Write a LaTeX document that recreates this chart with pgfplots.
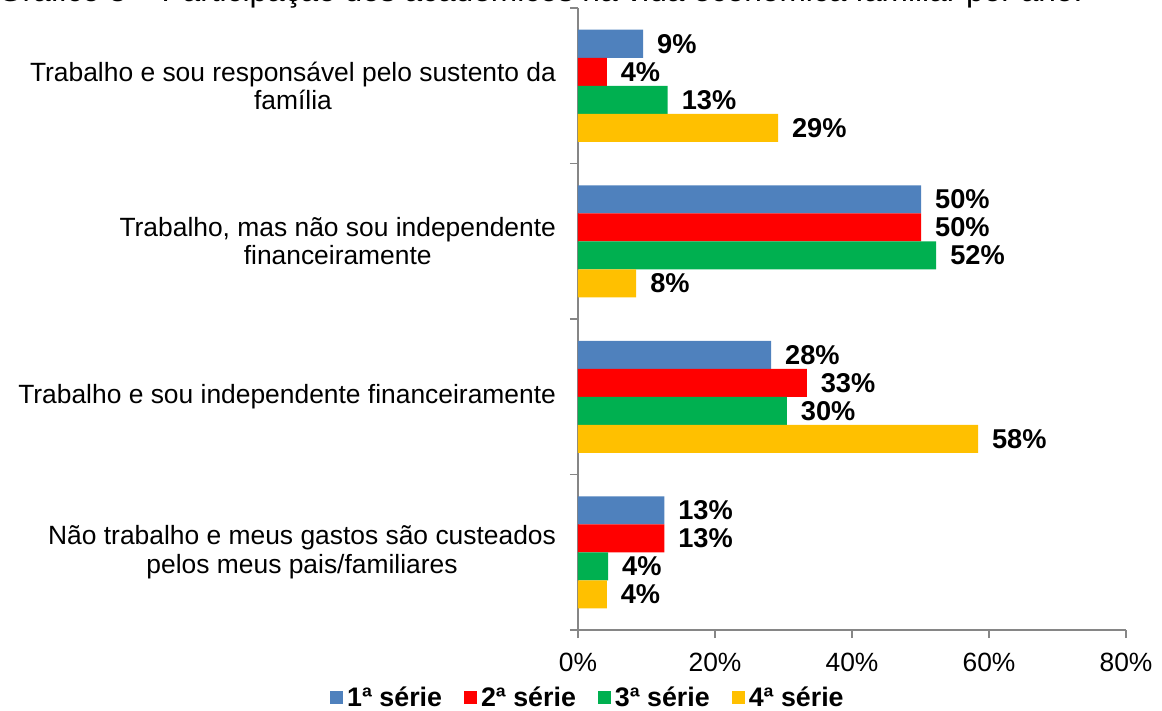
\documentclass[border=0pt]{standalone}
\usepackage{fontspec}
\setmainfont{Liberation Sans}
\usepackage{pgfplots}
\usepackage{pgfplotstable}
\pgfplotsset{compat=1.18}

\definecolor{serA}{HTML}{4F81BD}
\definecolor{serB}{HTML}{FF0000}
\definecolor{serC}{HTML}{00B050}
\definecolor{serD}{HTML}{FFC000}
\definecolor{axgray}{HTML}{868686}

% y: category (0 = top), x: percent, lab: printed label
\pgfplotstableread{
y x lab
0 9.5 9
1 50.1 50
2 28.2 28
3 12.6 13
}\serAtab
\pgfplotstableread{
y x lab
0 4.2 4
1 50.1 50
2 33.4 33
3 12.6 13
}\serBtab
\pgfplotstableread{
y x lab
0 13.1 13
1 52.3 52
2 30.5 30
3 4.4 4
}\serCtab
\pgfplotstableread{
y x lab
0 29.2 29
1 8.5 8
2 58.4 58
3 4.2 4
}\serDtab

\begin{document}
\begin{tikzpicture}[font=\fontsize{13.2}{14.2}\selectfont]
\useasboundingbox (-289pt,-40.5pt) rectangle (292pt,315pt);
\clip (-289pt,-40.5pt) rectangle (292pt,315pt);
\node[anchor=base east,inner sep=0pt,font=\fontsize{15.84}{17}\selectfont] at (252.5pt,314.4pt)
  {Gráfico 3 – Participação dos acadêmicos na vida econômica familiar por ano.};
\begin{axis}[
  scale only axis,
  width=274pt,height=311pt,
  xbar,
  bar width=14pt,
  xmin=0,xmax=80,
  ymin=-0.5,ymax=3.5,
  y dir=reverse,
  axis x line*=bottom,axis y line*=left,
  axis line style={axgray,line width=0.75pt},
  tick style={axgray,line width=0.75pt},
  tick align=outside,
  xtick={0,20,40,60,80},
  xticklabel={\pgfmathprintnumber{\tick}\%},
  /pgf/number format/assume math mode=true,
  xticklabel style={yshift=-4pt},
  major tick length=4pt,
  ytick={0,1,2,3},
  major y tick style={draw=none},
  minor ytick={-0.5,0.5,1.5,2.5,3.5},
  minor tick length=4pt,
  yticklabels={
    {Trabalho e sou responsável pelo sustento da\\família},
    {Trabalho, mas não sou independente\\financeiramente},
    {Trabalho e sou independente financeiramente},
    {Não trabalho e meus gastos são custeados\\pelos meus pais/familiares}},
  yticklabel style={align=center,xshift=-3.5pt},
  nodes near coords={\pgfplotspointmeta\%},
  point meta=explicit symbolic,
  nodes near coords style={font=\fontsize{13.6}{14.2}\selectfont\bfseries,anchor=west,xshift=3.5pt,black},
  legend style={at={(0.020,-0.109)},anchor=center,draw=none,fill=none,
    legend columns=4,font=\fontsize{13.4}{14.2}\selectfont\bfseries,
    /tikz/every even column/.append style={column sep=9pt}},
  legend image code/.code={\fill[#1,draw=none] (0pt,-3.25pt) rectangle (6.5pt,3.25pt);},
]
\addplot[fill=serA,draw=none,bar shift=21pt] table[x=x,y=y,meta=lab] {\serAtab};
\addplot[fill=serB,draw=none,bar shift=7pt] table[x=x,y=y,meta=lab] {\serBtab};
\addplot[fill=serC,draw=none,bar shift=-7pt] table[x=x,y=y,meta=lab] {\serCtab};
\addplot[fill=serD,draw=none,bar shift=-21pt] table[x=x,y=y,meta=lab] {\serDtab};
\legend{1ª série,2ª série,3ª série,4ª série}
\end{axis}
\end{tikzpicture}
\end{document}
